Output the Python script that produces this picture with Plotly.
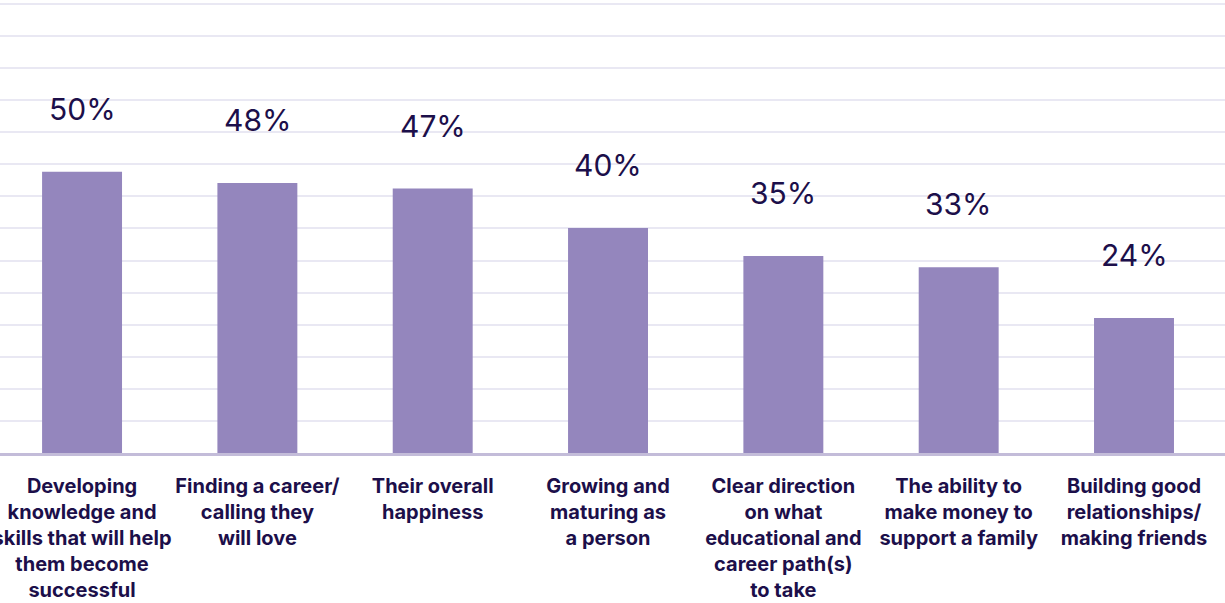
import plotly.graph_objects as go

categories = [
    "Developing<br>knowledge and<br>skills that will help<br>them become<br>successful",
    "Finding a career/<br>calling they<br>will love",
    "Their overall<br>happiness",
    "Growing and<br>maturing as<br>a person",
    "Clear direction<br>on what<br>educational and<br>career path(s)<br>to take",
    "The ability to<br>make money to<br>support a family",
    "Building good<br>relationships/<br>making friends",
]
values = [50, 48, 47, 40, 35, 33, 24]
value_labels = ["50%", "48%", "47%", "40%", "35%", "33%", "24%"]

BAR = "#9486BD"
TEXT = "#1C0F4A"

fig = go.Figure()
fig.add_trace(go.Bar(
    x=categories, y=values, marker=dict(color=BAR, line=dict(width=0)),
    width=0.456, hoverinfo="skip",
))

for c, v, t in zip(categories, values, value_labels):
    fig.add_annotation(x=c, y=v, text=t, showarrow=False, yshift=63,
                       yanchor="middle", xanchor="center",
                       font=dict(family="Inter", size=30, color=TEXT))

fig.update_layout(
    width=1225, height=603,
    margin=dict(l=0, r=0, t=0, b=150),
    paper_bgcolor="white", plot_bgcolor="white",
    showlegend=False,
    bargap=0.5,
    xaxis=dict(
        range=[-0.468, 6.519],
        showgrid=False, showline=True, linecolor="#C3BCD9", linewidth=3,
        ticks="", ticklabelstandoff=13, tickangle=0, automargin=False,
        tickfont=dict(family="Inter", size=20, color=TEXT, weight="bold"),
        fixedrange=True,
    ),
    yaxis=dict(
        range=[0, 80.5], tick0=0, dtick=5.7,
        showgrid=True, gridcolor="#E9E8F3", gridwidth=2,
        zeroline=False, showticklabels=False, ticks="", automargin=False,
        fixedrange=True,
    ),
)

fig.write_html("out.html", config={"displayModeBar": False},
               post_script="document.body.style.margin='0px';")
